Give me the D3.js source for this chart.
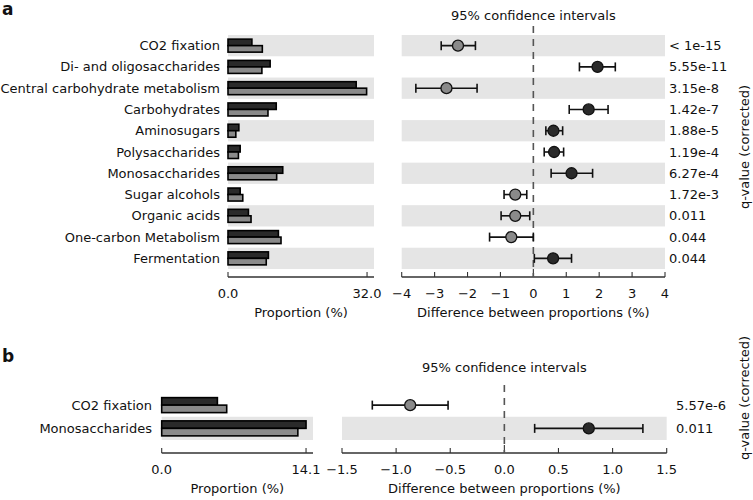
<!DOCTYPE html>
<html><head><meta charset="utf-8">
<script src="https://cdn.jsdelivr.net/npm/d3@7"></script>
<style>body{margin:0;background:#fff}svg{display:block;font-family:"DejaVu Sans",sans-serif}</style>
</head><body>
<svg id="c" width="753" height="500"></svg>
<script>
// ---- Panel a data ----
const catsA = ["CO2 fixation","Di- and oligosaccharides","Central carbohydrate metabolism","Carbohydrates","Aminosugars","Polysaccharides","Monosaccharides","Sugar alcohols","Organic acids","One-carbon Metabolism","Fermentation"];
const propDarkA = [5.5, 9.7, 29.5, 11.1, 2.5, 2.8, 12.6, 2.8, 4.7, 11.6, 9.3];
const propGrayA = [7.9, 7.8, 31.9, 9.2, 1.8, 2.4, 11.2, 3.4, 5.3, 12.2, 8.8];
const diffA   = [-2.29, 1.95, -2.64, 1.68, 0.61, 0.63, 1.16, -0.55, -0.55, -0.67, 0.60];
const ciLowA  = [-2.80, 1.40, -3.57, 1.09, 0.38, 0.33, 0.54, -0.89, -0.98, -1.33, 0.03];
const ciHighA = [-1.76, 2.49, -1.71, 2.27, 0.89, 0.92, 1.80, -0.20, -0.11, 0.00, 1.16];
const qA = ["< 1e-15","5.55e-11","3.15e-8","1.42e-7","1.88e-5","1.19e-4","6.27e-4","1.72e-3","0.011","0.044","0.044"];
const propTicksA = [0, 32];
const diffTicksA = [-4,-3,-2,-1,0,1,2,3,4];

// ---- Panel b data ----
const catsB = ["CO2 fixation","Monosaccharides"];
const propDarkB = [5.44, 14.1];
const propGrayB = [6.35, 13.3];
const diffB   = [-0.87, 0.78];
const ciLowB  = [-1.22, 0.28];
const ciHighB = [-0.52, 1.28];
const qB = ["5.57e-6","0.011"];
const propTicksB = [0, 14.1];
const diffTicksB = [-1.5,-1.0,-0.5,0.0,0.5,1.0,1.5];

const svg = d3.select("#c");
const DARK="#2a2a2a", GRAY="#8a8a8a", BAND="#e5e5e5", FS=13, TXT="#111";

function panel(o){
  const g = svg.append("g");
  const y = d3.scaleBand().domain(o.cats).range(o.yRange);
  const xl = d3.scaleLinear().domain(o.propDomain).range(o.propRange);
  const xr = d3.scaleLinear().domain(o.diffDomain).range(o.diffRange);
  // bands
  o.cats.forEach((c,i)=>{
    if(i%2===o.bandParity){
      g.append("rect").attr("x",xl.range()[0]).attr("y",y(c)).attr("width",xl.range()[1]-xl.range()[0]).attr("height",y.bandwidth()).attr("fill",BAND);
      g.append("rect").attr("x",xr.range()[0]).attr("y",y(c)).attr("width",xr.range()[1]-xr.range()[0]).attr("height",y.bandwidth()).attr("fill",BAND);
    }
  });
  // category labels
  g.selectAll("text.cat").data(o.cats).join("text").attr("class","cat")
    .attr("x",o.labelX).attr("y",d=>y(d)+y.bandwidth()/2).attr("dy","0.35em")
    .attr("text-anchor","end").attr("font-size",FS).attr("fill",TXT).text(d=>d);
  // bars
  const bh=o.barH;
  g.selectAll("rect.bd").data(o.cats).join("rect")
    .attr("x",xl(0)).attr("y",d=>y(d)+y.bandwidth()/2-bh)
    .attr("width",(d,i)=>xl(o.dark[i])-xl(0)).attr("height",bh)
    .attr("fill",DARK).attr("stroke","#000").attr("stroke-width",1.6);
  g.selectAll("rect.bg").data(o.cats).join("rect")
    .attr("x",xl(0)).attr("y",d=>y(d)+y.bandwidth()/2)
    .attr("width",(d,i)=>xl(o.gray[i])-xl(0)).attr("height",bh)
    .attr("fill",GRAY).attr("stroke","#000").attr("stroke-width",1.6);
  // left axis
  const axL = g.append("g").attr("transform",`translate(0,${o.axisY})`);
  axL.append("line").attr("x1",xl.range()[0]).attr("x2",xl.range()[1]).attr("stroke","#333").attr("stroke-width",1.3);
  o.propTicks.forEach(t=>{
    axL.append("line").attr("x1",xl(t)).attr("x2",xl(t)).attr("y1",0).attr("y2",-5).attr("stroke","#333").attr("stroke-width",1.1);
    axL.append("text").attr("x",xl(t)).attr("y",16).attr("dy","0.35em").attr("text-anchor","middle").attr("font-size",FS).attr("fill",TXT).text(d3.format(".1f")(t));
  });
  axL.append("text").attr("x",(xl.range()[0]+xl.range()[1])/2).attr("y",35).attr("dy","0.35em").attr("text-anchor","middle").attr("font-size",FS).attr("fill",TXT).text("Proportion (%)");
  // right axis
  const axR = g.append("g").attr("transform",`translate(0,${o.axisY})`);
  axR.append("line").attr("x1",xr.range()[0]).attr("x2",xr.range()[1]).attr("stroke","#333").attr("stroke-width",1.3);
  o.diffTicks.forEach(t=>{
    axR.append("line").attr("x1",xr(t)).attr("x2",xr(t)).attr("y1",0).attr("y2",t===0?-8:-5).attr("stroke","#333").attr("stroke-width",1.1);
    axR.append("text").attr("x",xr(t)).attr("y",16).attr("dy","0.35em").attr("text-anchor","middle").attr("font-size",FS).attr("fill",TXT).text(o.fmt(t).replace("-","\u2212"));
  });
  axR.append("text").attr("x",(xr.range()[0]+xr.range()[1])/2).attr("y",35).attr("dy","0.35em").attr("text-anchor","middle").attr("font-size",FS).attr("fill",TXT).text("Difference between proportions (%)");
  // dashed zero line
  g.append("line").attr("x1",xr(0)).attr("x2",xr(0)).attr("y1",o.dashTop).attr("y2",o.axisY)
    .attr("stroke","#555").attr("stroke-width",1.6).attr("stroke-dasharray","7,6");
  // title
  g.append("text").attr("x",xr(0)).attr("y",o.titleY).attr("dy","0.35em").attr("text-anchor","middle").attr("font-size",FS).attr("fill",TXT).text("95% confidence intervals");
  // error bars
  o.cats.forEach((c,i)=>{
    const cy=y(c)+y.bandwidth()/2;
    g.append("line").attr("x1",xr(o.lo[i])).attr("x2",xr(o.hi[i])).attr("y1",cy).attr("y2",cy).attr("stroke","#111").attr("stroke-width",1.6);
    [o.lo[i],o.hi[i]].forEach(v=>g.append("line").attr("x1",xr(v)).attr("x2",xr(v)).attr("y1",cy-4.5).attr("y2",cy+4.5).attr("stroke","#111").attr("stroke-width",1.6));
    g.append("circle").attr("cx",xr(o.diff[i])).attr("cy",cy).attr("r",5.5)
      .attr("fill",o.diff[i]>=0?DARK:GRAY).attr("stroke","#111").attr("stroke-width",1.3);
  });
  // q-values
  g.selectAll("text.q").data(o.q).join("text").attr("class","q")
    .attr("x",o.qX).attr("y",(d,i)=>y(o.cats[i])+y.bandwidth()/2).attr("dy","0.35em")
    .attr("font-size",FS).attr("fill",TXT).text(d=>d);
  g.append("text").attr("transform",`translate(${o.qLabelX},${o.qLabelY}) rotate(-90)`)
    .attr("text-anchor","middle").attr("dy","0.35em").attr("font-size",FS).attr("fill",TXT).text("q-value (corrected)");
  // panel letter
  g.append("text").attr("x",2).attr("y",o.letterY).attr("font-size",17).attr("font-weight","bold").attr("fill","#111").text(o.letter);
}

panel({cats:catsA, yRange:[35,269], propDomain:[0,33.6], propRange:[228,374], diffDomain:[-4,4], diffRange:[401.7,665],
  dark:propDarkA, gray:propGrayA, diff:diffA, lo:ciLowA, hi:ciHighA, q:qA, propTicks:propTicksA, diffTicks:diffTicksA,
  fmt:d3.format("d"), bandParity:0, labelX:220, barH:6.5, axisY:277, dashTop:26, titleY:15, qX:669, qLabelX:744, qLabelY:147, letter:"a", letterY:15});

panel({cats:catsB, yRange:[393.5,440], propDomain:[0,14.78], propRange:[161.7,313], diffDomain:[-1.5,1.5], diffRange:[342,666.7],
  dark:propDarkB, gray:propGrayB, diff:diffB, lo:ciLowB, hi:ciHighB, q:qB, propTicks:propTicksB, diffTicks:diffTicksB,
  fmt:d3.format(".1f"), bandParity:1, labelX:152, barH:7.5, axisY:453, dashTop:385, titleY:367, qX:676, qLabelX:744, qLabelY:398, letter:"b", letterY:362});
</script>
</body></html>
